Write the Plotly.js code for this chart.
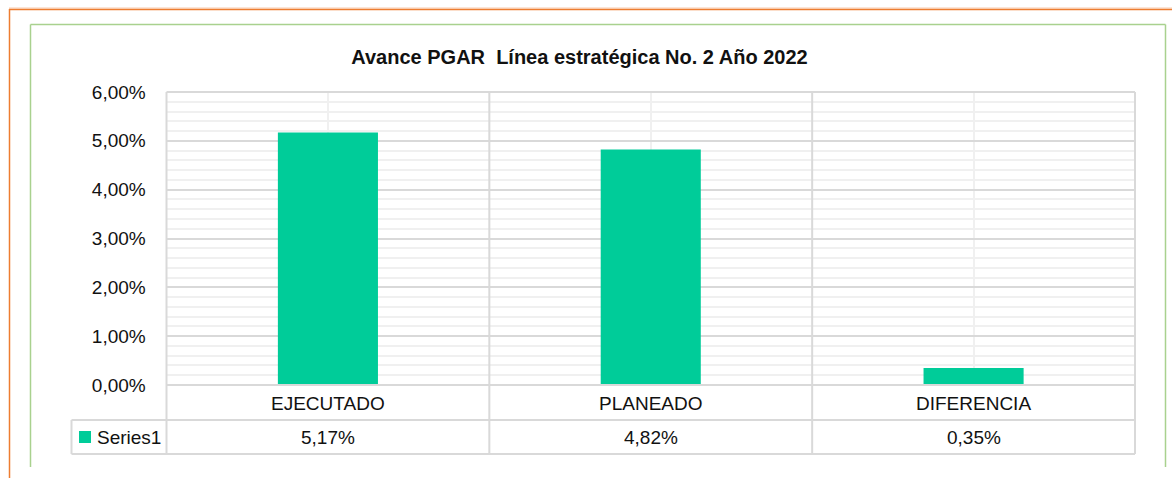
<!DOCTYPE html>
<html>
<head>
<meta charset="utf-8">
<script src="https://cdn.plot.ly/plotly-3.0.1.min.js"></script>
<style>html,body{margin:0;padding:0;background:#fff;}#chart{width:1172px;height:478px;}</style>
</head>
<body>
<div id="chart"></div>
<script>
var categories = ["EJECUTADO", "PLANEADO", "DIFERENCIA"];
var seriesName = "Series1";
var values = [5.17, 4.82, 0.35];
var chartTitle = "Avance PGAR  Línea estratégica No. 2 Año 2022";

var W = 1172, H = 478;
function px(x){ return x / W; }
function py(y){ return 1 - y / H; }

var FONT = "'Liberation Sans', Arial, sans-serif";
var TXT = "#111111";
var BAR = "#00CC99";
var LINE = "#d9d9d9";
var FS = 19;

var plotL = 166.5, plotR = 1135, plotT = 92, plotB = 385;
var row1B = 420, row2B = 454, tableL = 71.5;
var catW = (plotR - plotL) / categories.length;

function fmt(v){ return v.toFixed(2).replace('.', ',') + '%'; }

var shapes = [];
function line(x0,y0,x1,y1,color,width){
  shapes.push({type:'line', xref:'paper', yref:'paper', x0:px(x0), y0:py(y0), x1:px(x1), y1:py(y1),
    line:{color:color, width:width}, layer:'above'});
}
// outer orange frame
line(9, 8, W, 8, '#F8CBAD', 1);
line(9, 9.5, W, 9.5, '#ED7D31', 1.5);
line(9.5, 9, 9.5, H, '#ED7D31', 1.5);
// green chart border
line(30.5, 24.5, 1165.5, 24.5, '#A9D18E', 1.5);
line(30.5, 24.5, 30.5, 467, '#A9D18E', 1.5);
line(1165.5, 24.5, 1165.5, 467, '#A9D18E', 1.5);
// data table grid
line(plotL, plotT, plotR, plotT, LINE, 2);
line(plotL, plotB, plotR, plotB, LINE, 2);
line(tableL, row1B, plotR, row1B, LINE, 2);
line(tableL, row2B, plotR, row2B, LINE, 2);
line(tableL, row1B, tableL, row2B, LINE, 2);
for (var i = 0; i <= categories.length; i++) {
  var xb = plotL + i * catW;
  line(xb, plotT, xb, row2B, LINE, 2);
}
// legend key
shapes.push({type:'rect', xref:'paper', yref:'paper', x0:px(79), x1:px(91), y0:py(431), y1:py(443),
  fillcolor:BAR, line:{width:0}, layer:'above'});

var annotations = [];
categories.forEach(function(c, i){
  var cx = plotL + (i + 0.5) * catW;
  annotations.push({xref:'paper', yref:'paper', x:px(cx), y:py(403), text:c, showarrow:false,
    xanchor:'center', yanchor:'middle', font:{family:FONT, size:FS, color:TXT}});
  annotations.push({xref:'paper', yref:'paper', x:px(cx), y:py(437.5), text:fmt(values[i]), showarrow:false,
    xanchor:'center', yanchor:'middle', font:{family:FONT, size:FS, color:TXT}});
});
annotations.push({xref:'paper', yref:'paper', x:px(95), y:py(437.5), text:seriesName, showarrow:false,
  xanchor:'left', yanchor:'middle', font:{family:FONT, size:FS, color:TXT}});

var trace = {
  type:'bar', x:categories, y:values, name:seriesName,
  marker:{color:BAR, line:{width:0}}, width:0.31, hoverinfo:'x+y'
};

var layout = {
  width:W, height:H,
  margin:{l:0, r:0, t:0, b:0},
  paper_bgcolor:'#ffffff', plot_bgcolor:'#ffffff',
  showlegend:false,
  separators:',.',
  title:{text:'<b>' + chartTitle + '</b>', font:{family:FONT, size:20, color:TXT},
    x:px(579.5), xanchor:'center', xref:'paper', y:py(57), yanchor:'middle', yref:'container'},
  xaxis:{type:'category', domain:[px(plotL), px(plotR)], range:[-0.5, categories.length - 0.5],
    showgrid:true, gridcolor:'#f0f0f0', gridwidth:2, showticklabels:false, zeroline:false,
    showline:false, ticks:''},
  yaxis:{domain:[py(plotB), py(plotT)], range:[0, 6], dtick:1, tick0:0,
    tickformat:'.2f', ticksuffix:'%', showgrid:true, gridcolor:LINE, gridwidth:2,
    zeroline:false, showline:false, ticks:'outside', ticklen:16, tickcolor:'rgba(0,0,0,0)',
    tickfont:{family:FONT, size:FS, color:TXT},
    minor:{dtick:0.2, showgrid:true, gridcolor:'#f0f0f0', gridwidth:2, ticks:''}},
  shapes:shapes,
  annotations:annotations
};

Plotly.newPlot('chart', [trace], layout, {displayModeBar:false, staticPlot:true});
</script>
</body>
</html>
